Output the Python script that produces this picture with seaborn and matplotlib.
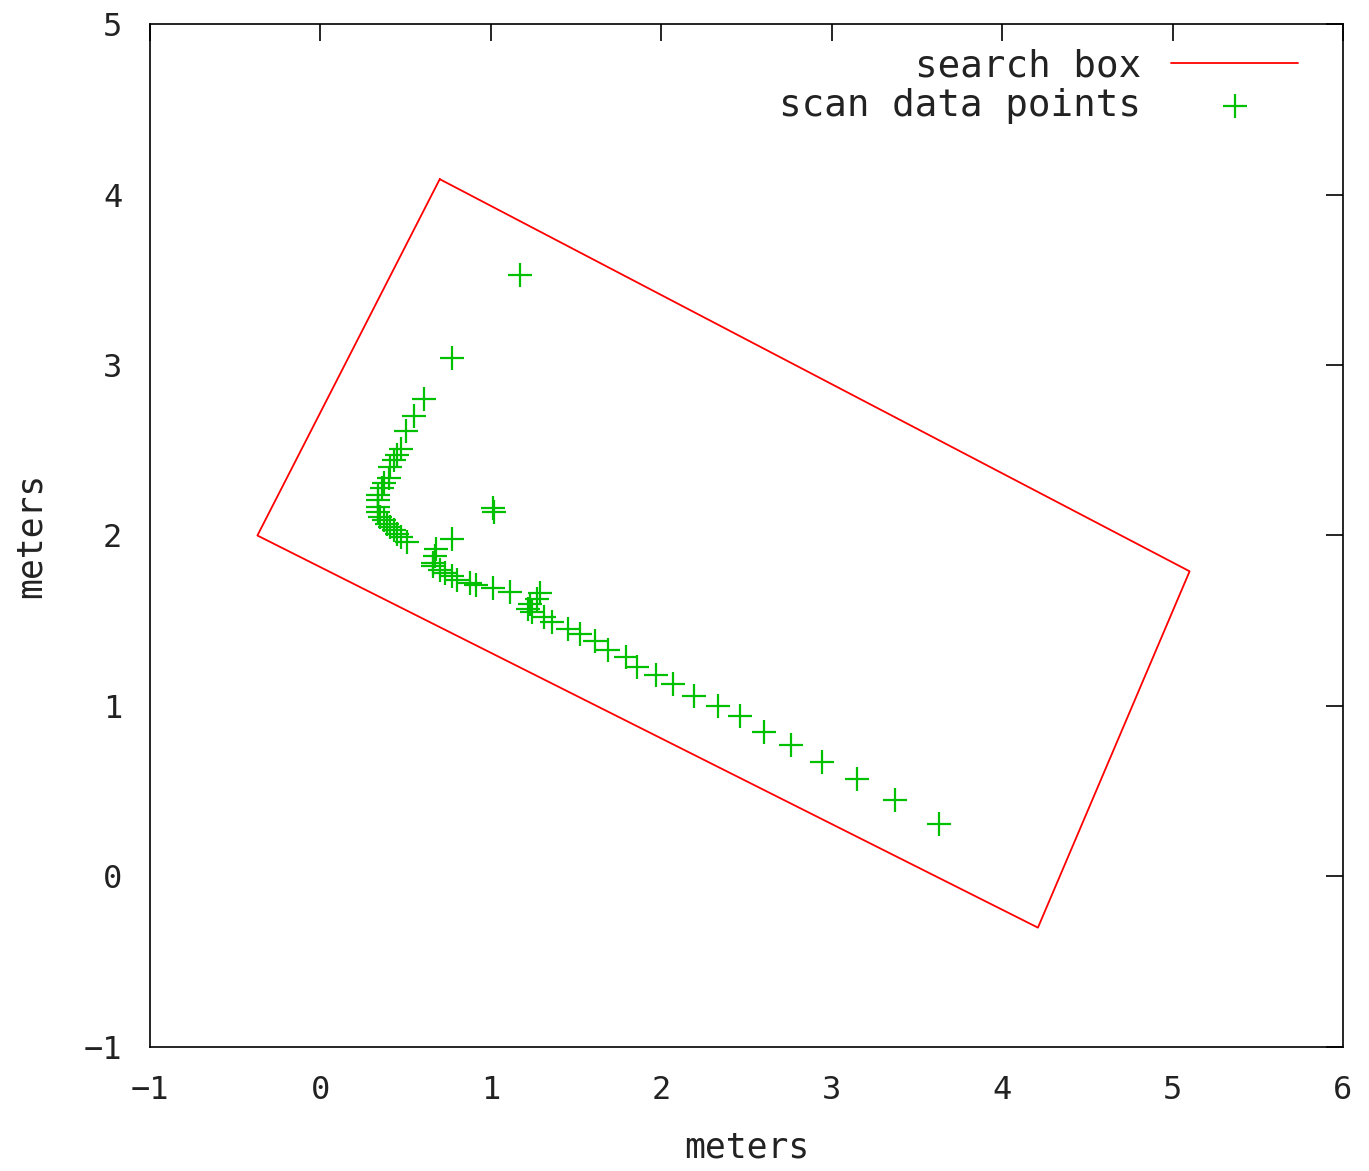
import matplotlib
matplotlib.use("Agg")
import matplotlib.pyplot as plt
import seaborn as sns
import pandas as pd

# search box corners (closed polygon)
box_x = [0.70, 5.10, 4.21, -0.37, 0.70]
box_y = [4.09, 1.79, -0.30, 2.00, 4.09]

# scan data points
scan_x = [1.17, 0.77, 0.61, 0.55, 0.50, 0.47, 0.45, 0.43, 0.41, 0.40, 0.37, 0.36,
          0.34, 0.34, 0.34, 0.34, 0.35, 0.37, 0.39, 0.41, 0.43, 0.45, 0.47, 0.51,
          0.77, 0.68, 0.67, 0.66, 0.66, 0.70, 0.73, 0.77, 0.80, 0.88, 0.91, 1.01,
          1.11, 1.29, 1.27, 1.23, 1.22, 1.24, 1.31, 1.36, 1.45, 1.52, 1.61, 1.69,
          1.79, 1.86, 1.97, 2.07, 2.19, 2.33, 2.46, 2.60, 2.76, 2.94, 3.15, 3.37,
          3.63, 1.01, 1.02]
scan_y = [3.53, 3.04, 2.80, 2.70, 2.61, 2.51, 2.47, 2.44, 2.40, 2.34, 2.31, 2.28,
          2.24, 2.21, 2.17, 2.14, 2.11, 2.09, 2.07, 2.05, 2.03, 2.01, 1.99, 1.96,
          1.98, 1.92, 1.88, 1.84, 1.82, 1.80, 1.78, 1.76, 1.74, 1.72, 1.71, 1.69,
          1.67, 1.66, 1.63, 1.60, 1.57, 1.55, 1.52, 1.49, 1.45, 1.42, 1.38, 1.33,
          1.29, 1.23, 1.18, 1.13, 1.06, 1.00, 0.94, 0.85, 0.77, 0.67, 0.57, 0.45,
          0.31, 2.16, 2.14]

x_ticks = [-1, 0, 1, 2, 3, 4, 5, 6]
y_ticks = [-1, 0, 1, 2, 3, 4, 5]

sns.set_theme(style="white")
plt.rcParams['font.family'] = ['DejaVu Sans Mono', 'DejaVu Sans']

fig = plt.figure(figsize=(13.69, 11.71), dpi=100)
ax = fig.add_axes([0.1096, 0.1059, 0.8714, 0.8736])

box_df = pd.DataFrame({"x": box_x, "y": box_y})
scan_df = pd.DataFrame({"x": scan_x, "y": scan_y})

sns.lineplot(data=box_df, x="x", y="y", sort=False, estimator=None, color="#ff0000",
             linewidth=1.3, ax=ax, label="search box")
sns.scatterplot(data=scan_df, x="x", y="y", marker="+", color="#00c000", s=300,
                linewidth=1.6, ax=ax, label="scan data points")

ax.set_xlim(-1, 6)
ax.set_ylim(-1, 5)
ax.set_xticks(x_ticks)
ax.set_yticks(y_ticks)
ax.set_xticklabels([str(v).replace('-', '\u2212') for v in x_ticks])
ax.set_yticklabels([str(v).replace('-', '\u2212') for v in y_ticks])
ax.tick_params(direction='in', top=True, right=True, length=12, width=1.2,
               labelsize=23, color='black', labelcolor='#222222')
ax.tick_params(axis='x', pad=20)
ax.tick_params(axis='y', pad=20)
for s in ax.spines.values():
    s.set_color('black')
    s.set_linewidth(1.2)

ax.set_xlabel("meters", fontsize=25, labelpad=18, color='#222222')
ax.set_ylabel("meters", fontsize=25, labelpad=26, color='#222222')

leg = ax.legend(loc='upper right', frameon=False, markerfirst=False, fontsize=27,
                handlelength=3.4, handletextpad=0.8, labelspacing=0.1,
                borderaxespad=0.25, bbox_to_anchor=(0.983, 1.0))
for t in leg.get_texts():
    t.set_color('#222222')

fig.savefig("out.png", dpi=100)
